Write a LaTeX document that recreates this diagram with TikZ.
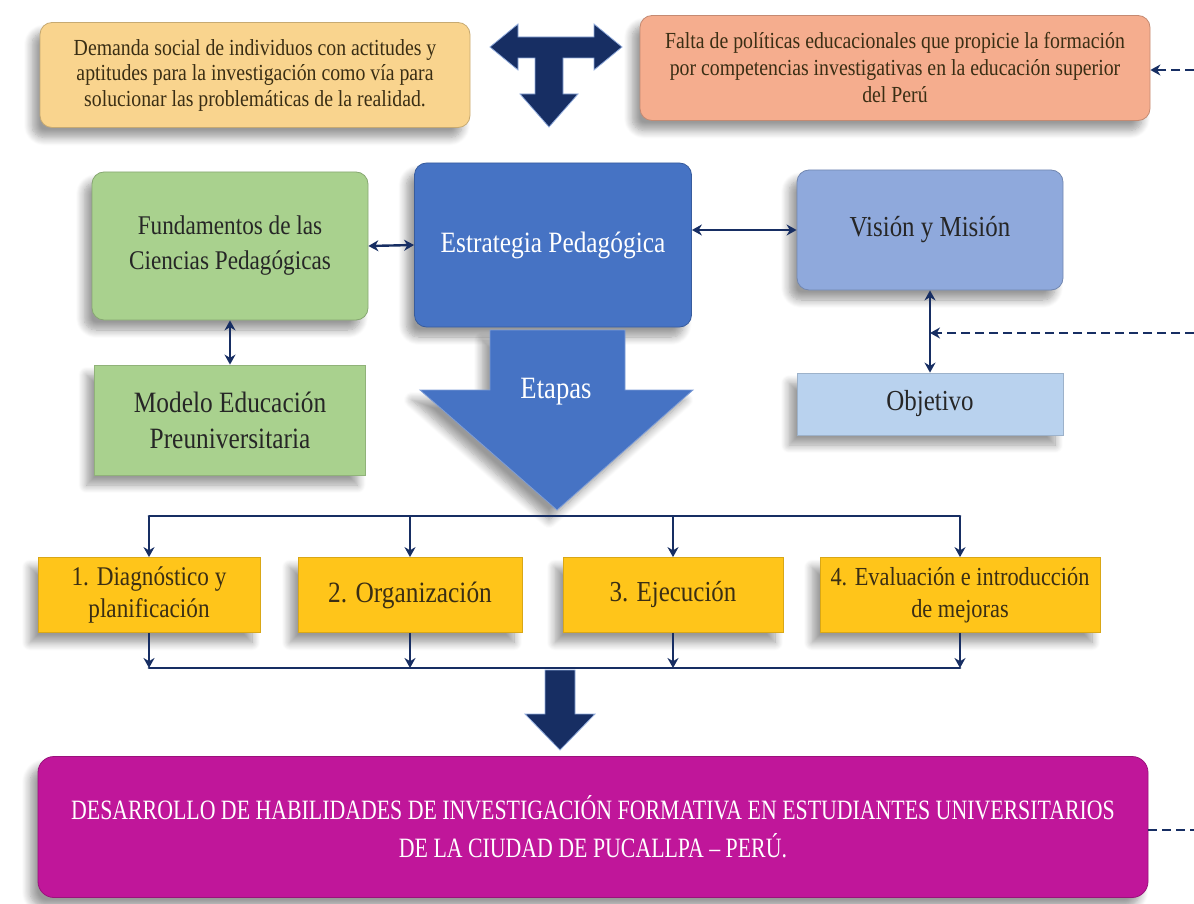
\documentclass[tikz,border=0pt]{standalone}
\usepackage{fontspec}
\setmainfont{Liberation Serif}[FakeStretch=0.86]
\newfontfamily\condfont{Liberation Serif}[FakeStretch=0.78]
\usetikzlibrary{arrows.meta,shadows.blur}
\definecolor{cOrange}{HTML}{F9D48E}
\definecolor{cSalmon}{HTML}{F5AD8E}
\definecolor{cGreen}{HTML}{A9D18E}
\definecolor{cBlue}{HTML}{4673C4}
\definecolor{cVision}{HTML}{8FA9DC}
\definecolor{cObj}{HTML}{B9D2EE}
\definecolor{cYellow}{HTML}{FFC51A}
\definecolor{cMag}{HTML}{C0169A}
\definecolor{cNavy}{HTML}{172E63}
\definecolor{cTxt}{HTML}{3A2E14}
\tikzset{
  box/.style={draw=#1!80!black, fill=#1, line width=0.8pt, rounded corners=12pt, align=center, inner sep=4pt,
    blur shadow={shadow xshift=-8pt, shadow yshift=-10pt, shadow blur steps=10, shadow blur radius=8pt, shadow opacity=40}},
  sqbox/.style={draw=#1!85!black, fill=#1, line width=0.8pt, align=center, inner sep=4pt,
    blur shadow={shadow xshift=-8pt, shadow yshift=-10pt, shadow blur steps=10, shadow blur radius=8pt, shadow opacity=40}},
  conn/.style={draw=cNavy, line width=2.4pt, -{Stealth[length=10pt,width=11pt]}},
  dbl/.style={draw=cNavy, line width=2.4pt, {Stealth[length=10pt,width=11pt]}-{Stealth[length=10pt,width=11pt]}},
  bus/.style={draw=cNavy, line width=2.8pt},
  dashcon/.style={draw=cNavy, line width=2.8pt, dash pattern=on 9pt off 5pt},
  shapefill/.style={fill=cNavy, draw=cBlue!60!white, line width=0.8pt},
}
\begin{document}
\begin{tikzpicture}[x=1pt,y=-1pt]
\path[use as bounding box] (0,0) rectangle (1194,904);

% top boxes
\node[box=cOrange, minimum width=430pt, minimum height=105pt, text=cTxt,
  font=\fontsize{23}{25.5}\selectfont] (demanda) at (255,75)
  {Demanda social de individuos con actitudes y\\aptitudes para la investigación como vía para\\solucionar las problemáticas de la realidad.};
\node[box=cSalmon, minimum width=510pt, minimum height=105pt, text=cTxt,
  font=\fontsize{23}{27}\selectfont] (falta) at (895,68)
  {Falta de políticas educacionales que propicie la formación\\por competencias investigativas en la educación superior\\del Perú};

% T arrow
\filldraw[shapefill] (490,47) -- (518,24) -- (518,37) -- (594,37) -- (594,24) -- (622,47)
  -- (594,70) -- (594,58) -- (563,58) -- (563,94) -- (578,94) -- (549,127) -- (520,94)
  -- (535,94) -- (535,58) -- (518,58) -- (518,70) -- cycle;

% middle boxes
\node[box=cGreen, minimum width=276pt, minimum height=148pt, text=black!85,
  font=\fontsize{27}{35}\selectfont] (fund) at (230,246)
  {Fundamentos de las\\Ciencias Pedagógicas};
\node[box=cBlue, minimum width=277pt, minimum height=164pt, text=white,
  font=\fontsize{29.5}{32}\selectfont] (estr) at (553,245)
  {Estrategia Pedagógica};
\node[box=cVision, minimum width=266pt, minimum height=120pt, text=black!85,
  font=\fontsize{29}{32}\selectfont] (vision) at (930,230)
  {Visión y Misión};
\node[sqbox=cObj, minimum width=266pt, minimum height=62pt, text=black!85,
  font=\fontsize{29}{32}\selectfont] (obj) at (930,404)
  {Objetivo};
\node[sqbox=cGreen, minimum width=271pt, minimum height=110pt, text=black!85,
  font=\fontsize{29.5}{36}\selectfont] (modelo) at (230,420)
  {Modelo Educación\\Preuniversitaria};

\draw[dbl] (fund.east) -- (estr.west);
\draw[dbl] (estr.east |- vision.west) -- (vision.west);
\draw[dbl] (fund.south) -- (modelo.north);
\draw[dbl] (vision.south) -- (obj.north);
\coordinate (rin2) at (1194,333);
\draw[dashcon, -{Stealth[length=10pt,width=11pt]}] (rin2) -- (vision.south |- rin2);
\coordinate (rin1) at (1194,70);
\draw[dashcon, -{Stealth[length=10pt,width=11pt]}] (rin1) -- (falta.east |- rin1);

% Etapas arrow
\filldraw[fill=cBlue, draw=cBlue!70!white, line width=0.8pt,
  blur shadow={shadow xshift=-8pt, shadow yshift=-10pt, shadow blur steps=10, shadow blur radius=8pt, shadow opacity=40}]
  (490,330) -- (625,330) -- (625,390) -- (693,390) -- (557,510) -- (420,390) -- (490,390) -- cycle;
\node[text=white, font=\fontsize{31}{34}\selectfont] (etapas) at (556,392) {Etapas};

% stage boxes
\tikzset{stage/.style={sqbox=cYellow, minimum height=75pt, text=cTxt}}
\node[stage, minimum width=222pt, font=\fontsize{27}{32}\selectfont] (d1) at (149,595)
  {1. Diagnóstico y\\planificación};
\node[stage, minimum width=224pt, font=\fontsize{29.5}{32}\selectfont] (d2) at (410,595)
  {2. Organización};
\node[stage, minimum width=220pt, font=\fontsize{29}{32}\selectfont] (d3) at (673,595)
  {3. Ejecución};
\node[stage, minimum width=280pt, font=\fontsize{26}{32}\selectfont] (d4) at (960,595)
  {4. Evaluación e introducción\\de mejoras};

\coordinate (tb) at (0,516);
\coordinate (bb) at (0,668);
\draw[bus, line cap=round] (d1.north |- tb) -- (d4.north |- tb);
\draw[bus, line cap=round] (d1.south |- bb) -- (d4.south |- bb);
\foreach \n in {d1,d2,d3,d4}{
  \draw[conn] (\n.north |- tb) -- (\n.north);
  \draw[conn] (\n.south) -- (\n.south |- bb);
}

% bottom box
\node[box=cMag, rounded corners=16pt, minimum width=1110pt, minimum height=141pt, text=white,
  font=\condfont\fontsize{28}{38}\selectfont] (desa) at (593,827)
  {DESARROLLO DE HABILIDADES DE INVESTIGACIÓN FORMATIVA EN ESTUDIANTES UNIVERSITARIOS\\DE LA CIUDAD DE PUCALLPA – PERÚ.};

% thick arrow down
\filldraw[shapefill] (545,670) -- (575,670) -- (575,714) -- (595,714) -- (560,750)
  -- (525,714) -- (545,714) -- cycle;

\coordinate (rout) at (1194,830);
\draw[dashcon] (desa.east |- rout) -- (rout);
\end{tikzpicture}
\end{document}
